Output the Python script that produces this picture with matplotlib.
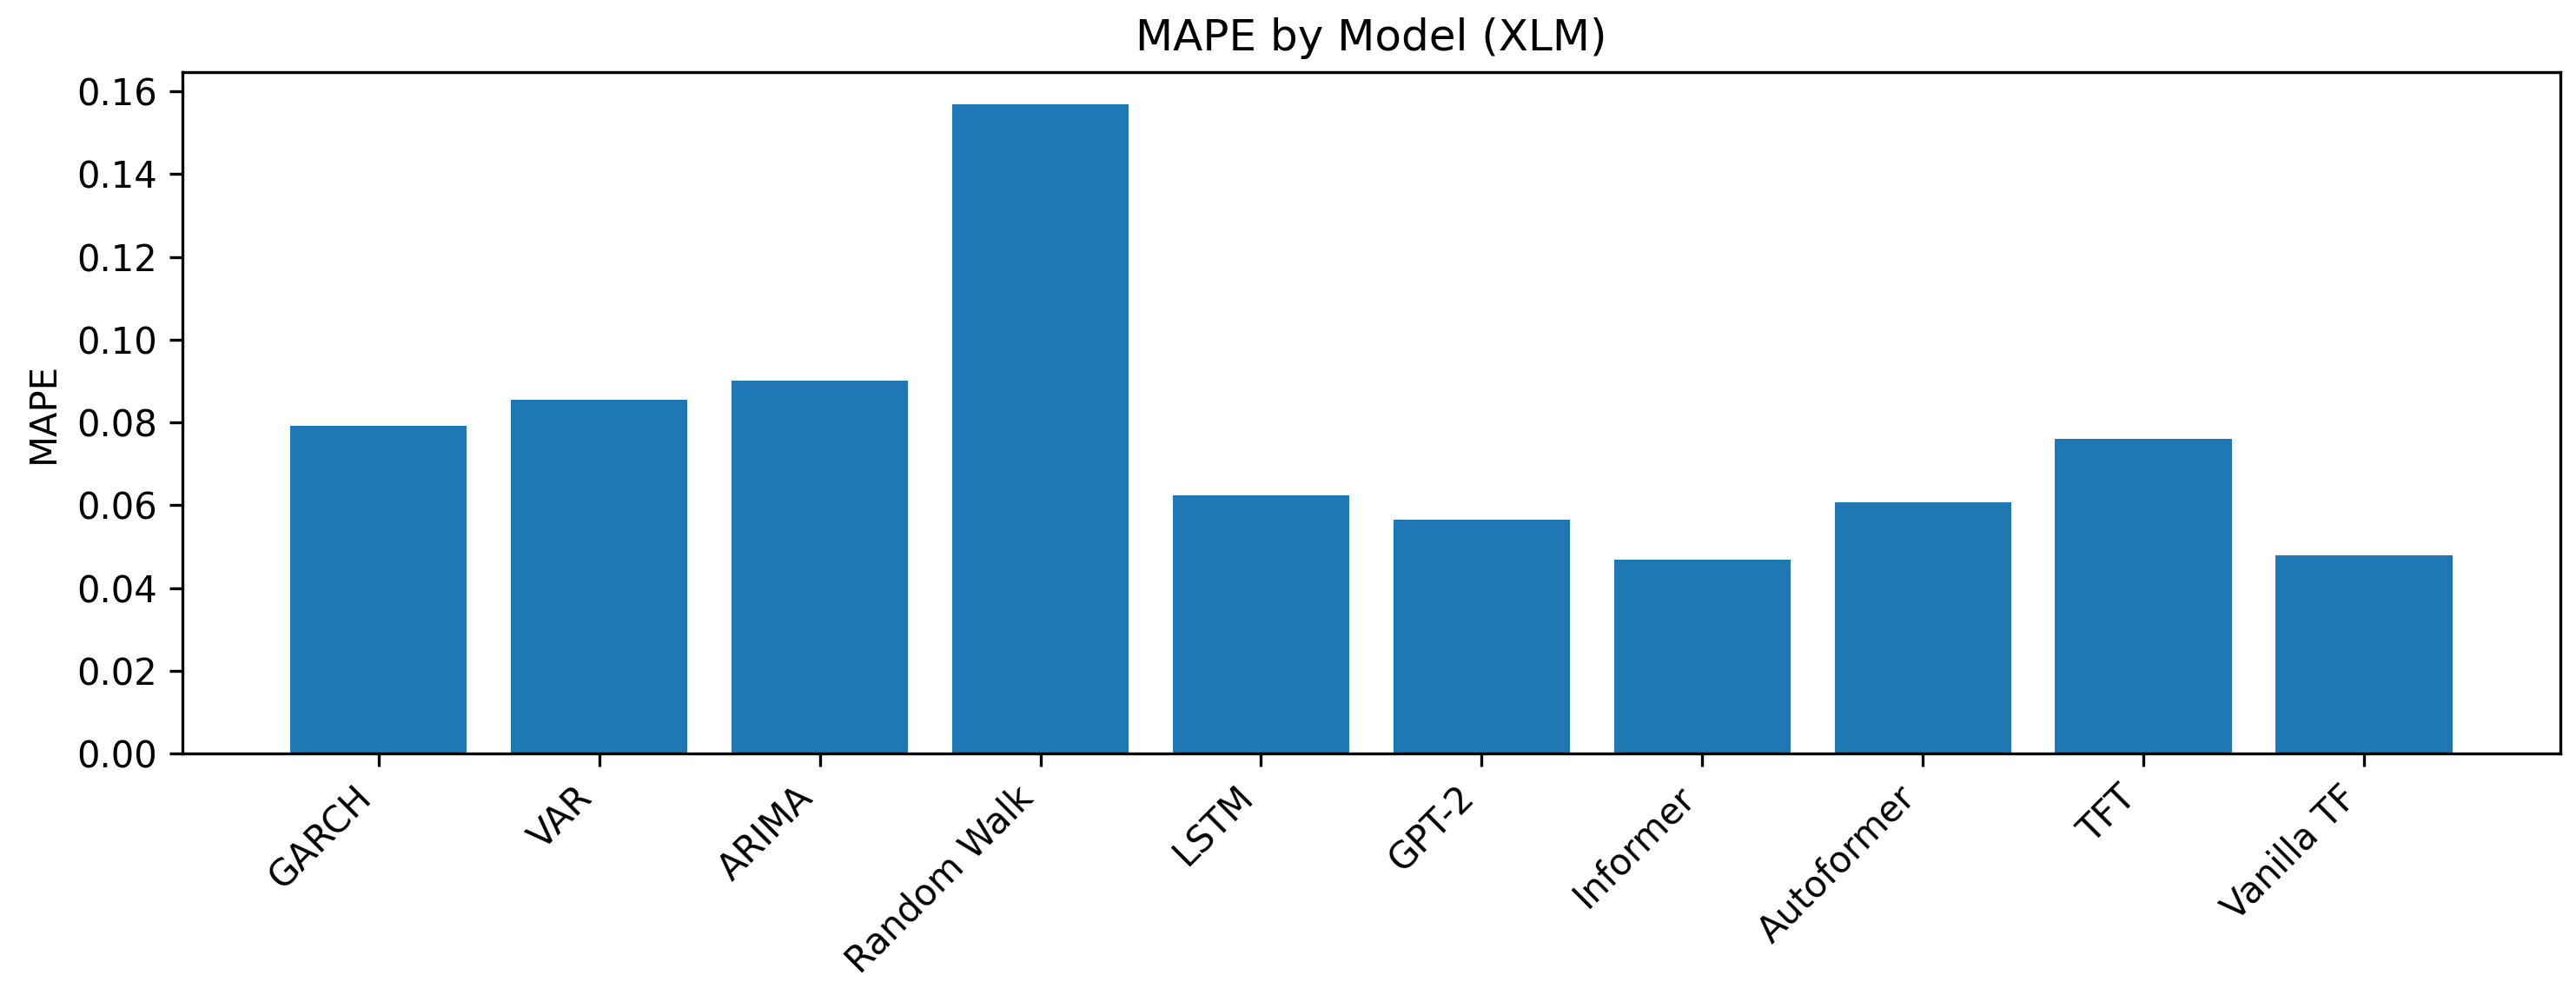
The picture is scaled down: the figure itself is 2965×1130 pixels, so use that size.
import matplotlib
matplotlib.use('Agg')
import matplotlib.pyplot as plt

models = ['GARCH', 'VAR', 'ARIMA', 'Random Walk', 'LSTM', 'GPT-2',
          'Informer', 'Autoformer', 'TFT', 'Vanilla TF']
mape = [0.0791, 0.0854, 0.0900, 0.1568, 0.0623, 0.0564,
        0.0468, 0.0608, 0.0760, 0.0479]

fig, ax = plt.subplots(figsize=(2965 / 300, 1130 / 300))
ax.bar(models, mape, color='#1f77b4')
ax.set_title('MAPE by Model (XLM)', fontsize=12)
ax.set_ylabel('MAPE')
plt.setp(ax.get_xticklabels(), rotation=45, ha='right')
fig.subplots_adjust(left=0.0708, right=0.9939, top=0.9265, bottom=0.2327)
plt.savefig('out.png', dpi=300)
